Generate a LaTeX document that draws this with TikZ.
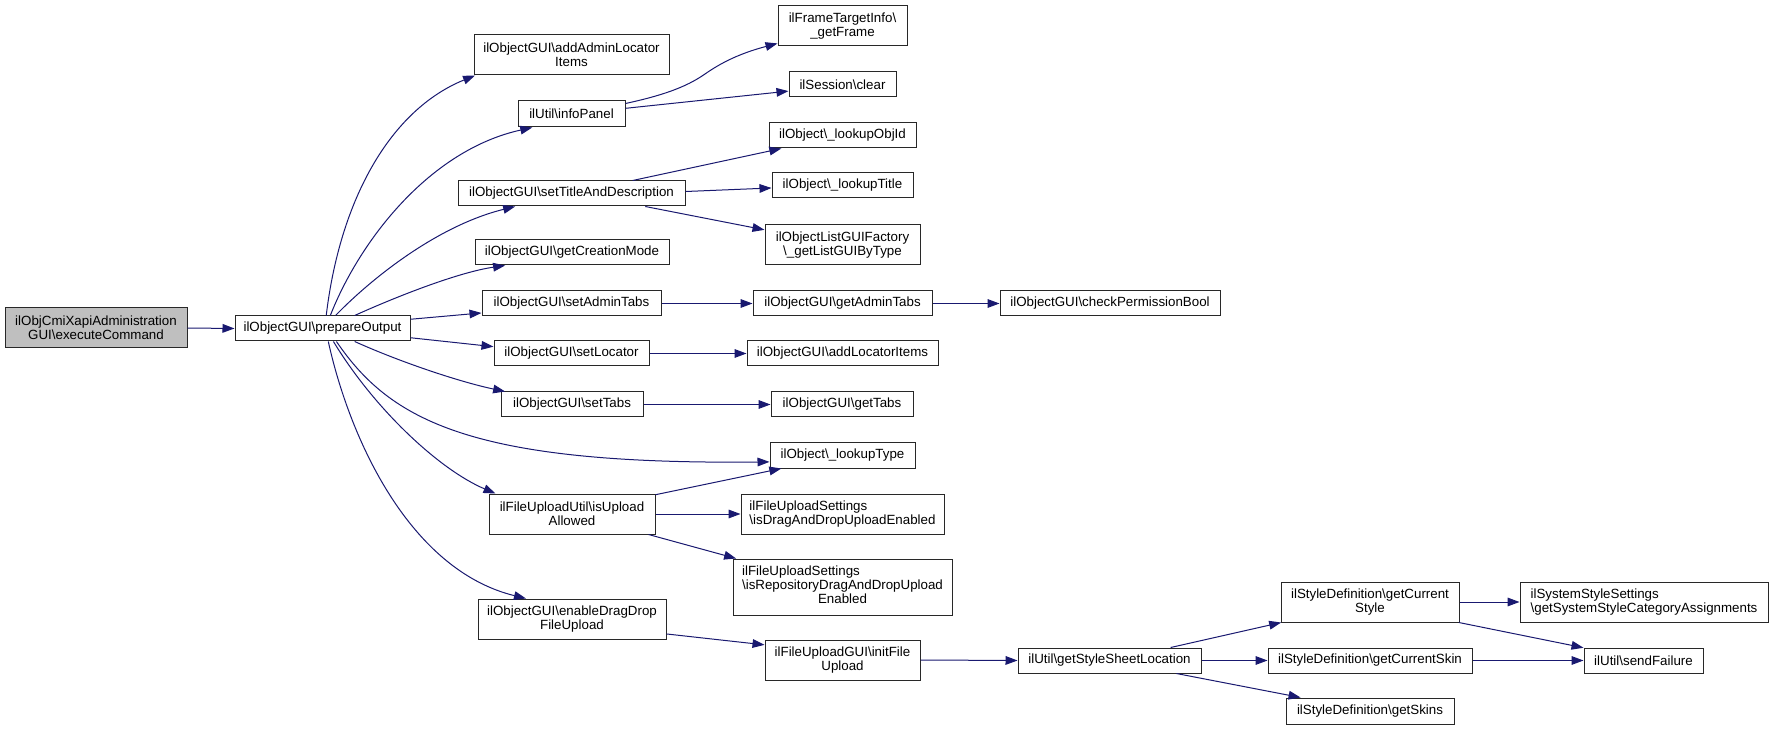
\documentclass[tikz,border=0pt]{standalone}
\usepackage{fontspec}
\setmainfont{Liberation Sans}
\usetikzlibrary{arrows.meta}
\definecolor{edgec}{RGB}{25,25,112}
\definecolor{execfill}{RGB}{191,191,191}
\definecolor{boxline}{RGB}{40,40,40}
\newcommand\gnode[7][]{\node[gbox,#1,minimum width={(#5-#3)*0.75pt},minimum height={(#6-#4)*0.75pt}] (#2) at ({(#3+#5)/2},{(#4+#6)/2}) {#7};}
\begin{document}
\begin{tikzpicture}[x=0.75pt,y=-0.75pt,
  gbox/.style={draw=boxline,line width=0.75pt,fill=white,inner sep=1pt,font=\fontsize{10}{10.5}\selectfont,align=center},
  conn/.style={draw=edgec,line width=0.75pt,-{Triangle[length=9pt,width=6.5pt]}}]
\fill[white] (0,0) rectangle (1773,730);
\useasboundingbox (0,0) rectangle (1773,730);
% nodes
\gnode[fill=execfill]{ex}{5}{308}{187}{348}{ilObjCmiXapiAdministration\\GUI\textbackslash executeCommand}
\gnode{po}{235}{316}{410}{341}{ilObjectGUI\textbackslash prepareOutput}
\gnode{aal}{474}{35}{669}{75}{ilObjectGUI\textbackslash addAdminLocator\\Items}
\gnode{ip}{518}{101}{625}{127}{ilUtil\textbackslash infoPanel}
\gnode{st}{458}{181}{685}{206}{ilObjectGUI\textbackslash setTitleAndDescription}
\gnode{gcm}{475}{240}{669}{265}{ilObjectGUI\textbackslash getCreationMode}
\gnode{sat}{482}{291}{661}{316}{ilObjectGUI\textbackslash setAdminTabs}
\gnode{sl}{494}{341}{649}{366}{ilObjectGUI\textbackslash setLocator}
\gnode{stb}{501}{392}{643}{417}{ilObjectGUI\textbackslash setTabs}
\gnode{iua}{489}{494}{655}{534}{ilFileUploadUtil\textbackslash isUpload\\Allowed}
\gnode{edd}{478}{599}{666}{639}{ilObjectGUI\textbackslash enableDragDrop\\FileUpload}
\gnode{fti}{778}{6}{907}{46}{ilFrameTargetInfo\textbackslash\\\_getFrame}
\gnode{ses}{789}{72}{896}{97}{ilSession\textbackslash clear}
\gnode{loi}{769}{123}{916}{148}{ilObject\textbackslash\_lookupObjId}
\gnode{ltt}{772}{173}{913}{198}{ilObject\textbackslash\_lookupTitle}
\gnode{lgf}{765}{225}{920}{265}{ilObjectListGUIFactory\\\textbackslash\_getListGUIByType}
\gnode{gat}{753}{291}{932}{316}{ilObjectGUI\textbackslash getAdminTabs}
\gnode{ali}{747}{341}{938}{366}{ilObjectGUI\textbackslash addLocatorItems}
\gnode{gtb}{771}{392}{913}{417}{ilObjectGUI\textbackslash getTabs}
\gnode{lt}{770}{443}{915}{468}{ilObject\textbackslash\_lookupType}
\gnode[align=left]{idd}{741}{494}{944}{534}{ilFileUploadSettings\\\textbackslash isDragAndDropUploadEnabled}
\gnode{irp}{733}{559}{952}{615}{\begin{tabular}{@{}l@{}}ilFileUploadSettings\\\textbackslash isRepositoryDragAndDropUpload\\\multicolumn{1}{@{}c@{}}{Enabled}\end{tabular}}
\gnode{ifu}{765}{640}{920}{680}{ilFileUploadGUI\textbackslash initFile\\Upload}
\gnode{cpb}{1000}{291}{1220}{316}{ilObjectGUI\textbackslash checkPermissionBool}
\gnode{gssl}{1018}{648}{1201}{673}{ilUtil\textbackslash getStyleSheetLocation}
\gnode{gcs}{1281}{582}{1459}{622}{ilStyleDefinition\textbackslash getCurrent\\Style}
\gnode{gcsk}{1268}{648}{1472}{673}{ilStyleDefinition\textbackslash getCurrentSkin}
\gnode{gsk}{1286}{698}{1454}{724}{ilStyleDefinition\textbackslash getSkins}
\gnode[align=left]{sss}{1520}{582}{1768}{622}{ilSystemStyleSettings\\\textbackslash getSystemStyleCategoryAssignments}
\gnode{sf}{1584}{648}{1703}{673}{ilUtil\textbackslash sendFailure}
% connectors
\draw[conn] (ex.east) -- (po.west);
\draw[conn] (po.74) .. controls (340,200) and (390,110) .. (aal.192);
\draw[conn] (po.59) .. controls (360,240) and (430,150) .. (ip.199);
\draw[conn] (po.45) .. controls (375,275) and (440,225) .. (st.193);
\draw[conn] (po.22) .. controls (400,295) and (460,272) .. (gcm.191);
\draw[conn] (po.6) -- (sat.186);
\draw[conn] (po.354) -- (sl.175);
\draw[conn] (po.338) .. controls (400,362) and (460,382) .. (stb.169);
\draw[conn] (po.317) .. controls (390,420) and (470,465) .. (lt.185);
\draw[conn] (po.310) .. controls (375,410) and (440,470) .. (iua.165);
\draw[conn] (po.294) .. controls (350,440) and (410,570) .. (edd.156);
\draw[conn] (ip.11) .. controls (660,96) and (685,88) .. (705,74) .. controls (725,60) and (745,52) .. (fti.195);
\draw[conn] (ip.6) -- (ses.187);
\draw[conn] (st.12) -- (loi.192);
\draw[conn] (st.1) -- (ltt.182);
\draw[conn] (st.350) -- (lgf.169);
\draw[conn] (sat.east) -- (gat.west);
\draw[conn] (gat.east) -- (cpb.west);
\draw[conn] (sl.east) -- (ali.west);
\draw[conn] (stb.east) -- (gtb.west);
\draw[conn] (iua.13) -- (lt.192);
\draw[conn] (iua.east) -- (idd.west);
\draw[conn] (iua.345) -- (irp.165);
\draw[conn] (edd.351) -- (ifu.169);
\draw[conn] (ifu.east) -- (gssl.west);
\draw[conn] (gssl.12) -- (gcs.193);
\draw[conn] (gssl.east) -- (gcsk.west);
\draw[conn] (gssl.349) -- (gsk.169);
\draw[conn] (gcs.east) -- (sss.west);
\draw[conn] (gcs.347) -- (sf.168);
\draw[conn] (gcsk.east) -- (sf.west);
\end{tikzpicture}
\end{document}
